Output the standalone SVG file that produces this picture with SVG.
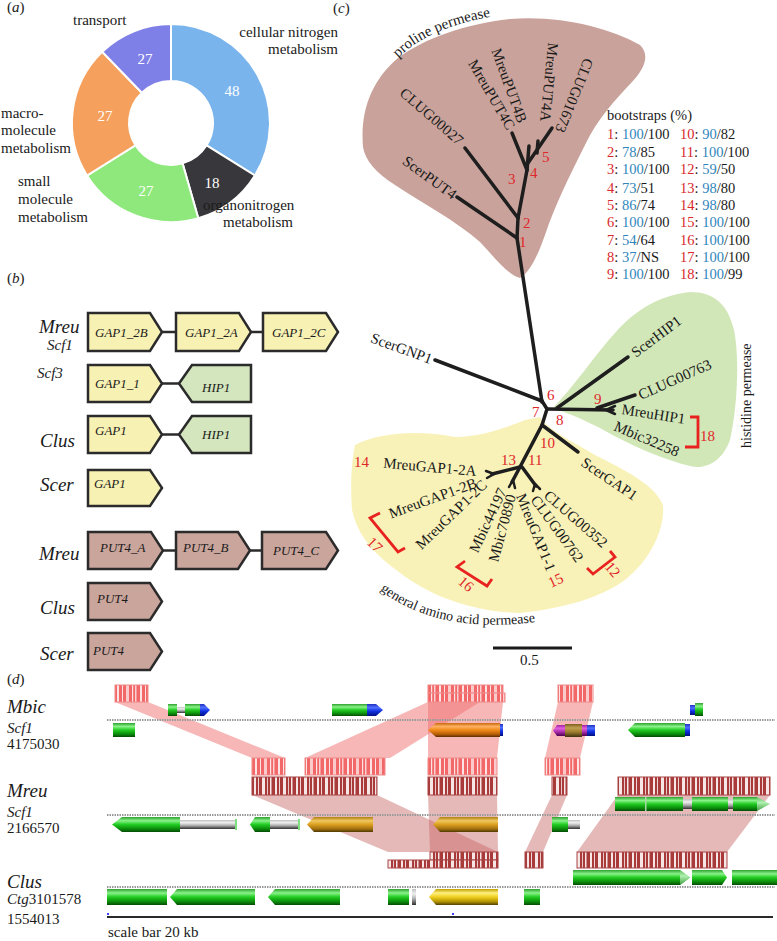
<svg xmlns="http://www.w3.org/2000/svg" width="777" height="941" viewBox="0 0 777 941">
<style>
text{font-family:"Liberation Serif","Times New Roman",serif;fill:#1a1a1a}
.pl{font-size:15px}
.num{font-size:15px;fill:#ffffff}
.sp{font-size:19px;font-style:italic}
.sc{font-size:15px;font-style:italic}
.gl{font-size:13px;font-style:italic}
.gb{stroke:#2b2b2b;stroke-width:2.5;stroke-linejoin:miter}
.gy{fill:#f8f1b4}.gg{fill:#d3e6bd}.gp{fill:#c9a59c}
.lk{stroke:#2b2b2b;stroke-width:2.5}
.br{stroke:#1e1e1e;stroke-width:3.5;stroke-linecap:round;fill:none}
.lf{font-size:15px}
.rn{font-size:15px;fill:#e0262a}
.bt{font-size:14.5px}
.r{fill:#d8282c}.b{fill:#2f86bd}
.brk{stroke:#e8231f;stroke-width:2.8;fill:none}
.dl{stroke:#9a9a9a;stroke-width:2.2;stroke-dasharray:1.5 1}
.bu{fill:#f07070;opacity:0.5}
.bd{fill:#c86464;opacity:0.45}
.bl{fill:url(#bcL);stroke:#f08a8a;stroke-width:1}
.bk{fill:url(#bcD);stroke:#a84444;stroke-width:1}
</style>
<defs>
<pattern id="bcL" patternUnits="userSpaceOnUse" width="23" height="40">
<rect width="23" height="40" fill="#f26868"/>
<rect x="2" width="2" height="40" fill="#fde4e4"/><rect x="7" width="1" height="40" fill="#fde4e4"/>
<rect x="11" width="3" height="40" fill="#fbcaca"/><rect x="17" width="1.2" height="40" fill="#fde4e4"/><rect x="20" width="1.5" height="40" fill="#fbd0d0"/>
</pattern>
<pattern id="bcD" patternUnits="userSpaceOnUse" width="21" height="40">
<rect width="21" height="40" fill="#a93a3a"/>
<rect x="2" width="2" height="40" fill="#f6e6e6"/><rect x="6" width="1" height="40" fill="#f0d6d6"/>
<rect x="10" width="3" height="40" fill="#f6e6e6"/><rect x="15" width="1" height="40" fill="#e8c8c8"/><rect x="18" width="1.5" height="40" fill="#f6e6e6"/>
</pattern>
<linearGradient id="gG" x1="0" y1="0" x2="0" y2="1"><stop offset="0" stop-color="#2ea02e"/><stop offset=".25" stop-color="#8af28a"/><stop offset=".5" stop-color="#22cc22"/><stop offset=".8" stop-color="#0a8a0a"/><stop offset="1" stop-color="#064a06"/></linearGradient>
<linearGradient id="gG2" x1="0" y1="0" x2="0" y2="1"><stop offset="0" stop-color="#60c060"/><stop offset=".4" stop-color="#b0f0b0"/><stop offset="1" stop-color="#40a040"/></linearGradient>
<linearGradient id="gO" x1="0" y1="0" x2="0" y2="1"><stop offset="0" stop-color="#c86a10"/><stop offset=".25" stop-color="#ffb060"/><stop offset=".5" stop-color="#f08a1a"/><stop offset=".8" stop-color="#b85e08"/><stop offset="1" stop-color="#5a2e00"/></linearGradient>
<linearGradient id="gD" x1="0" y1="0" x2="0" y2="1"><stop offset="0" stop-color="#b08010"/><stop offset=".25" stop-color="#f0c860"/><stop offset=".5" stop-color="#dca020"/><stop offset=".8" stop-color="#a07010"/><stop offset="1" stop-color="#503800"/></linearGradient>
<linearGradient id="gY" x1="0" y1="0" x2="0" y2="1"><stop offset="0" stop-color="#c0a000"/><stop offset=".25" stop-color="#fff080"/><stop offset=".5" stop-color="#f0d020"/><stop offset=".8" stop-color="#b09000"/><stop offset="1" stop-color="#504000"/></linearGradient>
<linearGradient id="gR" x1="0" y1="0" x2="0" y2="1"><stop offset="0" stop-color="#c0c0c0"/><stop offset=".3" stop-color="#f0f0f0"/><stop offset=".6" stop-color="#b0b0b0"/><stop offset="1" stop-color="#303030"/></linearGradient>
<linearGradient id="gB" x1="0" y1="0" x2="0" y2="1"><stop offset="0" stop-color="#2030c0"/><stop offset=".3" stop-color="#5070ff"/><stop offset=".6" stop-color="#1030e0"/><stop offset="1" stop-color="#001080"/></linearGradient>
<linearGradient id="gM" x1="0" y1="0" x2="0" y2="1"><stop offset="0" stop-color="#a020a0"/><stop offset=".3" stop-color="#e060e0"/><stop offset=".6" stop-color="#b030b0"/><stop offset="1" stop-color="#500050"/></linearGradient>
<linearGradient id="gV" x1="0" y1="0" x2="0" y2="1"><stop offset="0" stop-color="#806020"/><stop offset=".3" stop-color="#c0a050"/><stop offset=".6" stop-color="#a08030"/><stop offset="1" stop-color="#403010"/></linearGradient>
<path id="arcPro" d="M398,58 Q432,24 508,14"/>
<path id="arcGen" d="M380,590 Q445,640 560,618"/>
</defs>
<rect width="777" height="941" fill="#ffffff"/>

<!-- Panel a -->
<g id="panel-a">
<text class="pl" x="7" y="12">(<tspan font-style="italic">a</tspan>)</text>
<g id="slice-cellular"><path d="M171,24 A99,99 0 0 1 254.9,175.5 L206.6,145.3 A42,42 0 0 0 171,81 Z" fill="#79b4ec" stroke="#fff" stroke-width="2"/><text class="num" x="232" y="96" text-anchor="middle">48</text></g>
<g id="slice-organo"><path d="M254.9,175.5 A99,99 0 0 1 198.3,218.2 L182.6,163.4 A42,42 0 0 0 206.6,145.3 Z" fill="#38383c" stroke="#fff" stroke-width="2"/><text class="num" x="212" y="188" text-anchor="middle">18</text></g>
<g id="slice-small"><path d="M198.3,218.2 A99,99 0 0 1 87.0,175.5 L135.4,145.3 A42,42 0 0 0 182.6,163.4 Z" fill="#8ee87c" stroke="#fff" stroke-width="2"/><text class="num" x="146" y="196" text-anchor="middle">27</text></g>
<g id="slice-macro"><path d="M87.0,175.5 A99,99 0 0 1 102.2,51.8 L141.8,92.8 A42,42 0 0 0 135.4,145.3 Z" fill="#f5a05c" stroke="#fff" stroke-width="2"/><text class="num" x="105" y="121" text-anchor="middle">27</text></g>
<g id="slice-transport"><path d="M102.2,51.8 A99,99 0 0 1 171,24 L171,81 A42,42 0 0 0 141.8,92.8 Z" fill="#7f7fe8" stroke="#fff" stroke-width="2"/><text class="num" x="145" y="64" text-anchor="middle">27</text></g>
<text class="pl" x="73" y="25">transport</text>
<text class="pl" x="338" y="37" text-anchor="end">cellular nitrogen</text>
<text class="pl" x="338" y="54" text-anchor="end">metabolism</text>
<text class="pl" x="1" y="118">macro-</text>
<text class="pl" x="1" y="135">molecule</text>
<text class="pl" x="1" y="153">metabolism</text>
<text class="pl" x="18" y="186">small</text>
<text class="pl" x="18" y="204">molecule</text>
<text class="pl" x="18" y="222">metabolism</text>
<text class="pl" x="203" y="210">organonitrogen</text>
<text class="pl" x="223" y="227">metabolism</text>
</g>

<!-- Panel b -->
<g id="panel-b">
<text class="pl" x="7" y="283">(<tspan font-style="italic">b</tspan>)</text>
<text class="sp" x="39" y="333">Mreu</text>
<text class="sc" x="47" y="350">Scf1</text>
<text class="sc" x="37" y="378">Scf3</text>
<text class="sp" x="40" y="447">Clus</text>
<text class="sp" x="40" y="491">Scer</text>
<text class="sp" x="39" y="560">Mreu</text>
<text class="sp" x="40" y="614">Clus</text>
<text class="sp" x="40" y="660">Scer</text>
<g id="b-links">
<line class="lk" x1="162" y1="332" x2="176" y2="332"/><line class="lk" x1="251" y1="332" x2="263" y2="332"/>
<line class="lk" x1="162" y1="383.5" x2="179" y2="383.5"/>
<line class="lk" x1="162" y1="434.5" x2="179" y2="434.5"/>
<line class="lk" x1="163" y1="550.5" x2="176" y2="550.5"/><line class="lk" x1="250" y1="550.5" x2="262" y2="550.5"/>
</g>
<g id="g-gap1-2b"><path class="gb gy" d="M88,313 H150 L162,332 L150,351 H88 Z"/><text class="gl" x="95" y="337">GAP1_2B</text></g>
<g id="g-gap1-2a"><path class="gb gy" d="M176,313 H239 L251,332 L239,351 H176 Z"/><text class="gl" x="185" y="337">GAP1_2A</text></g>
<g id="g-gap1-2c"><path class="gb gy" d="M263,313 H326 L338,332 L326,351 H263 Z"/><text class="gl" x="272" y="337">GAP1_2C</text></g>
<g id="g-gap1-1"><path class="gb gy" d="M88,365 H150 L162,383.5 L150,402 H88 Z"/><text class="gl" x="95" y="388">GAP1_1</text></g>
<g id="g-hip1-a"><path class="gb gg" d="M179,383.5 L192,365 H251 V402 H192 Z"/><text class="gl" x="202" y="392">HIP1</text></g>
<g id="g-gap1-c"><path class="gb gy" d="M88,416 H150 L162,434.5 L150,453 H88 Z"/><text class="gl" x="95" y="435">GAP1</text></g>
<g id="g-hip1-b"><path class="gb gg" d="M179,434.5 L192,416 H251 V453 H192 Z"/><text class="gl" x="202" y="439">HIP1</text></g>
<g id="g-gap1-s"><path class="gb gy" d="M88,470 H150 L162,488 L150,506 H88 Z"/><text class="gl" x="94" y="488">GAP1</text></g>
<g id="g-put4a"><path class="gb gp" d="M88,532 H151 L163,550.5 L151,569 H88 Z"/><text class="gl" x="100" y="552">PUT4_A</text></g>
<g id="g-put4b"><path class="gb gp" d="M176,532 H238 L250,550.5 L238,569 H176 Z"/><text class="gl" x="183" y="552">PUT4_B</text></g>
<g id="g-put4c"><path class="gb gp" d="M262,532 H326 L338,550.5 L326,569 H262 Z"/><text class="gl" x="273" y="555">PUT4_C</text></g>
<g id="g-put4-c"><path class="gb gp" d="M88,583 H150 L162,601.5 L150,620 H88 Z"/><text class="gl" x="97" y="603">PUT4</text></g>
<g id="g-put4-s"><path class="gb gp" d="M88,633 H150 L162,651.5 L150,670 H88 Z"/><text class="gl" x="93" y="655">PUT4</text></g>
</g>

<!-- Panel c -->
<g id="panel-c">
<text class="pl" x="333" y="13">(<tspan font-style="italic">c</tspan>)</text>
<g id="clade-proline">
<path d="M363,147 C360,110 372,80 398,58 C425,38 465,24 510,19 C560,15 610,28 640,45 C650,55 645,68 632,82 C615,100 598,118 585,145 C570,175 555,205 545,235 C538,255 530,272 520,278 C508,275 495,258 480,242 C455,220 425,205 395,185 C375,172 365,160 363,147 Z" fill="#c9a39b"/>
<text font-size="15" fill="#8c4444"><textPath href="#arcPro">proline permease</textPath></text>
</g>
<g id="clade-histidine">
<path d="M553,408 C575,385 595,355 615,333 C635,310 660,295 690,292 C715,292 728,305 734,330 C740,360 737,410 730,440 C722,462 705,470 690,466 C665,460 635,448 600,428 C580,418 565,412 553,408 Z" fill="#d2e7b8"/>
<text font-size="14" fill="#7fb24a" transform="translate(751,448) rotate(-90)">histidine permease</text>
</g>
<g id="clade-gap">
<path d="M540,417 C548,430 570,440 595,455 C625,470 655,485 663,505 C665,530 650,560 625,580 C600,598 565,608 520,613 C480,612 440,600 410,580 C385,562 360,545 352,510 C350,480 352,460 355,445 C380,432 420,430 455,437 C480,437 505,428 525,420 Z" fill="#f9f2b8"/>
<text font-size="14" fill="#b5a66a"><textPath href="#arcGen">general amino acid permease</textPath></text>
</g>

<g id="tree-branches" class="br">
<path d="M457,197 L517,238"/>
<path d="M517,238 L542,402"/>
<path d="M517,238 L518,218"/>
<path d="M465,148 L518,218"/>
<path d="M518,218 L527,170"/>
<path d="M512,133 L527,170"/>
<path d="M527,170 L529,146"/>
<path d="M528,163 L552,128"/>
<path d="M537,153 L538,141"/>
<path d="M435,360 L542,401"/>
<path d="M542,401 L547,409"/>
<path d="M547,409 L613,410"/>
<path d="M557,408 L628,357"/>
<path d="M597,408 L635,395"/>
<path d="M606,410 L615,406 M606,410 L615,414" stroke-width="2.5"/>
<path d="M547,409 L542,425 L520,467"/>
<path d="M542,425 L578,452"/>
<path d="M520,467 L492,474"/>
<path d="M494,474 L486,471 M494,474 L487,478" stroke-width="2.5"/>
<path d="M520,467 L512,482"/>
<path d="M513,480 L509,487 M513,480 L515,488" stroke-width="2.5"/>
<path d="M522,467 L536,486"/>
<path d="M535,484 L533,491 M535,484 L540,489" stroke-width="2.5"/>
</g>

<g id="leaf-labels">
<text class="lf" text-anchor="end" transform="translate(452,200) rotate(36)">ScerPUT4</text>
<text class="lf" text-anchor="end" transform="translate(458,146) rotate(41)">CLUG00027</text>
<text class="lf" text-anchor="end" transform="translate(507,131) rotate(60)">MreuPUT4C</text>
<text class="lf" text-anchor="end" transform="translate(518,124) rotate(70)">MreuPUT4B</text>
<text class="lf" text-anchor="end" transform="translate(540,121) rotate(96)">MreuPUT4A</text>
<text class="lf" text-anchor="end" transform="translate(555,130) rotate(112)">CLUG01673</text>
<text class="lf" text-anchor="end" transform="translate(430,364) rotate(20)">ScerGNP1</text>
<text class="lf" text-anchor="start" transform="translate(636,358) rotate(-37)">ScerHIP1</text>
<text class="lf" text-anchor="start" transform="translate(641,400) rotate(-24)">CLUG00763</text>
<text class="lf" text-anchor="start" transform="translate(621,414) rotate(9)">MreuHIP1</text>
<text class="lf" text-anchor="start" transform="translate(613,430) rotate(23)">Mbic32258</text>
<text class="lf" text-anchor="start" transform="translate(580,465) rotate(34)">ScerGAP1</text>
<text class="lf" text-anchor="end" transform="translate(476,476) rotate(5)">MreuGAP1-2A</text>
<text class="lf" text-anchor="end" transform="translate(478,487) rotate(-20)">MreuGAP1-2B</text>
<text class="lf" text-anchor="end" transform="translate(488,486) rotate(-44)">MreuGAP1-2C</text>
<text class="lf" text-anchor="end" transform="translate(507,491) rotate(-65)">Mbic44197</text>
<text class="lf" text-anchor="end" transform="translate(516,496) rotate(-75)">Mbic70890</text>
<text class="lf" text-anchor="start" transform="translate(516,496) rotate(68)">MreuGAP1-1</text>
<text class="lf" text-anchor="start" transform="translate(530,500) rotate(54)">CLUG00762</text>
<text class="lf" text-anchor="start" transform="translate(543,497) rotate(41)">CLUG00352</text>
</g>

<g id="node-labels">
<text class="rn" x="519" y="247">1</text>
<text class="rn" x="523" y="228">2</text>
<text class="rn" x="508" y="184">3</text>
<text class="rn" x="530" y="178">4</text>
<text class="rn" x="542" y="162">5</text>
<text class="rn" x="547" y="400">6</text>
<text class="rn" x="532" y="417">7</text>
<text class="rn" x="556" y="425">8</text>
<text class="rn" x="594" y="404">9</text>
<text class="rn" x="540" y="448">10</text>
<text class="rn" x="501" y="465">13</text>
<text class="rn" x="528" y="465">11</text>
<text class="rn" x="354" y="467">14</text>
<text class="rn" x="700" y="441">18</text>
<text class="rn" transform="translate(366,543) rotate(45)">17</text>
<text class="rn" transform="translate(457,583) rotate(40)">16</text>
<text class="rn" transform="translate(551,588) rotate(-25)">15</text>
<text class="rn" transform="translate(604,567) rotate(50)">12</text>
</g>
<g id="brackets">
<polyline class="brk" points="690,417 698,417 698,447 685,447"/>
<polyline class="brk" points="380,513 370,518 398,552 405,548"/>
<polyline class="brk" points="465,561 457,567 487,586 492,579"/>
<polyline class="brk" points="587,568 593,574 615,557 610,551"/>
</g>

<g id="bootstraps">
<text class="bt" x="607" y="120">bootstraps (%)</text>
<text class="bt" x="607" y="139"><tspan class="r">1</tspan>: <tspan class="b">100</tspan>/100</text>
<text class="bt" x="607" y="157"><tspan class="r">2</tspan>: <tspan class="b">78</tspan>/85</text>
<text class="bt" x="607" y="174"><tspan class="r">3</tspan>: <tspan class="b">100</tspan>/100</text>
<text class="bt" x="607" y="193"><tspan class="r">4</tspan>: <tspan class="b">73</tspan>/51</text>
<text class="bt" x="607" y="210"><tspan class="r">5</tspan>: <tspan class="b">86</tspan>/74</text>
<text class="bt" x="607" y="227"><tspan class="r">6</tspan>: <tspan class="b">100</tspan>/100</text>
<text class="bt" x="607" y="245"><tspan class="r">7</tspan>: <tspan class="b">54</tspan>/64</text>
<text class="bt" x="607" y="262"><tspan class="r">8</tspan>: <tspan class="b">37</tspan>/NS</text>
<text class="bt" x="607" y="279"><tspan class="r">9</tspan>: <tspan class="b">100</tspan>/100</text>
<text class="bt" x="680" y="139"><tspan class="r">10</tspan>: <tspan class="b">90</tspan>/82</text>
<text class="bt" x="680" y="157"><tspan class="r">11</tspan>: <tspan class="b">100</tspan>/100</text>
<text class="bt" x="680" y="174"><tspan class="r">12</tspan>: <tspan class="b">59</tspan>/50</text>
<text class="bt" x="680" y="193"><tspan class="r">13</tspan>: <tspan class="b">98</tspan>/80</text>
<text class="bt" x="680" y="210"><tspan class="r">14</tspan>: <tspan class="b">98</tspan>/80</text>
<text class="bt" x="680" y="227"><tspan class="r">15</tspan>: <tspan class="b">100</tspan>/100</text>
<text class="bt" x="680" y="245"><tspan class="r">16</tspan>: <tspan class="b">100</tspan>/100</text>
<text class="bt" x="680" y="262"><tspan class="r">17</tspan>: <tspan class="b">100</tspan>/100</text>
<text class="bt" x="680" y="279"><tspan class="r">18</tspan>: <tspan class="b">100</tspan>/99</text>
</g>
<g id="scale-c">
<line x1="493" y1="648" x2="572" y2="648" stroke="#1a1a1a" stroke-width="3"/>
<text class="pl" x="520" y="665">0.5</text>
</g>
</g>

<!-- Panel d -->
<g id="panel-d">
<text class="pl" x="7" y="684">(<tspan font-style="italic">d</tspan>)</text>
<text class="sp" x="7" y="713">Mbic</text>
<text class="sc" x="7" y="733">Scf1</text>
<text class="pl" x="7" y="749">4175030</text>
<text class="sp" x="7" y="797">Mreu</text>
<text class="sc" x="7" y="817">Scf1</text>
<text class="pl" x="7" y="833">2166570</text>
<text class="sp" x="7" y="888">Clus</text>
<text class="pl" x="7" y="904"><tspan font-style="italic">Ctg</tspan>3101578</text>
<text class="pl" x="7" y="924">1554013</text>
<text class="pl" x="108" y="937">scale bar 20 kb</text>

<g id="synteny-bands">
<polygon class="bu" points="115,702 148,702 285,758 252,758"/>
<polygon class="bu" points="428,702 480,702 390,758 305,758"/>
<polygon class="bu" points="428,702 503,702 497,758 428,758"/>
<polygon class="bu" points="558,702 593,702 580,758 545,758"/>
<polygon class="bd" points="252,795 377,795 498,852 388,852"/>
<polygon class="bd" points="428,795 497,795 498,852 430,852"/>
<polygon class="bd" points="552,795 567,795 543,852 525,852"/>
<polygon class="bd" points="618,795 770,795 727,852 577,852"/>
</g>

<g id="track-lines">
<line class="dl" x1="107" y1="720" x2="775" y2="720"/>
<line class="dl" x1="107" y1="815" x2="775" y2="815"/>
<line class="dl" x1="107" y1="887" x2="775" y2="887"/>
</g>

<g id="match-blocks">
<rect class="bl" x="115" y="685" width="33" height="17"/>
<rect class="bl" x="428" y="685" width="75" height="8"/>
<rect class="bl" x="428" y="693" width="77" height="9"/>
<rect class="bl" x="558" y="685" width="35" height="17"/>
<rect class="bl" x="252" y="758" width="33" height="17"/>
<rect class="bl" x="305" y="758" width="80" height="17"/>
<rect class="bl" x="428" y="758" width="69" height="17"/>
<rect class="bl" x="545" y="758" width="35" height="17"/>
<rect class="bk" x="252" y="777" width="125" height="18"/>
<rect class="bk" x="428" y="777" width="69" height="18"/>
<rect class="bk" x="552" y="777" width="15" height="18"/>
<rect class="bk" x="618" y="777" width="152" height="18"/>
<rect class="bk" x="430" y="852" width="68" height="8"/>
<rect class="bk" x="388" y="860" width="110" height="8"/>
<rect class="bk" x="525" y="852" width="18" height="16"/>
<rect class="bk" x="577" y="852" width="150" height="16"/>
</g>

<g id="genes-mbic">
<rect x="168" y="704" width="9" height="12" fill="url(#gG)"/>
<rect x="177" y="707" width="8" height="6" fill="url(#gR)"/>
<rect x="185" y="704" width="15" height="12" fill="url(#gG)"/>
<path d="M200,704 H204 L210,710 L204,716 H200 Z" fill="url(#gB)"/>
<rect x="332" y="704" width="35" height="12" fill="url(#gG)"/>
<path d="M367,704 H376 L383,710 L376,716 H367 Z" fill="url(#gB)"/>
<rect x="690" y="705" width="5" height="10" fill="url(#gB)"/>
<rect x="695" y="703" width="8" height="13" fill="url(#gG)"/>
<rect x="113" y="723" width="22" height="14" fill="url(#gG)"/>
<path d="M428,730 L436,723 H500 V737 H436 Z" fill="url(#gO)"/>
<rect x="500" y="724" width="3" height="12" fill="url(#gB)"/>
<path d="M553,730.5 L557,725 H565 V736 H557 Z" fill="url(#gM)"/>
<rect x="565" y="724" width="17" height="13" fill="url(#gV)"/>
<rect x="582" y="725" width="5" height="11" fill="url(#gM)"/>
<rect x="587" y="725" width="8" height="11" fill="url(#gB)"/>
<path d="M628,730 L635,723 H685 V737 H635 Z" fill="url(#gG)"/>
<rect x="685" y="724" width="5" height="12" fill="url(#gB)"/>
</g>

<g id="genes-mreu">
<rect x="615" y="797" width="68" height="14" fill="url(#gG)"/>
<rect x="645" y="797" width="1.5" height="14" fill="#a8d8a8"/>
<rect x="683" y="799" width="9" height="10" fill="url(#gR)"/>
<rect x="692" y="797" width="36" height="14" fill="url(#gG)"/>
<rect x="728" y="799" width="5" height="10" fill="url(#gR)"/>
<rect x="733" y="797" width="24" height="14" fill="url(#gG)"/>
<path d="M757,797 L770,804 L757,811 Z" fill="url(#gG2)"/>
<path d="M112,824.5 L122,817 H180 V832 H122 Z" fill="url(#gG)"/>
<rect x="180" y="820" width="55" height="9" fill="url(#gR)"/>
<rect x="235" y="819" width="2" height="11" fill="#7fe07f"/>
<path d="M250,824.5 L255,817 H270 V832 H255 Z" fill="url(#gG)"/>
<rect x="270" y="820" width="28" height="9" fill="url(#gR)"/>
<rect x="298" y="819" width="2" height="11" fill="#7fe07f"/>
<path d="M307,824.5 L314,817 H373 V832 H314 Z" fill="url(#gD)"/>
<path d="M433,824.5 L440,817 H498 V832 H440 Z" fill="url(#gD)"/>
<rect x="552" y="817" width="16" height="15" fill="url(#gG)"/>
<rect x="568" y="820" width="12" height="9" fill="url(#gR)"/>
</g>

<g id="genes-clus">
<path d="M573,870 H680 L690,877.5 L680,885 H573 Z" fill="url(#gG)"/>
<path d="M680,870 L690,877.5 L680,885 Z" fill="url(#gG2)"/>
<path d="M692,870 H722 L727,877.5 L722,885 H692 Z" fill="url(#gG)"/>
<rect x="732" y="870" width="45" height="15" fill="url(#gG)"/>
<rect x="107" y="889" width="60" height="16" fill="url(#gG)"/>
<path d="M170,897 L177,889 H255 V905 H177 Z" fill="url(#gG)"/>
<path d="M268,897 L275,889 H340 V905 H275 Z" fill="url(#gG)"/>
<rect x="388" y="889" width="21" height="16" fill="url(#gG)"/>
<rect x="412" y="889" width="4" height="16" fill="url(#gR)"/>
<path d="M429,897 L436,889 H498 V905 H436 Z" fill="url(#gY)"/>
<rect x="524" y="889" width="16" height="16" fill="url(#gG)"/>
</g>

<g id="scale-d">
<line x1="107" y1="917" x2="773" y2="917" stroke="#2a2a2a" stroke-width="2.2"/>
<rect x="107" y="913" width="2" height="2" fill="#4040ff"/>
<rect x="452" y="913" width="2" height="2" fill="#4040ff"/>
</g>
</g>
</svg>
